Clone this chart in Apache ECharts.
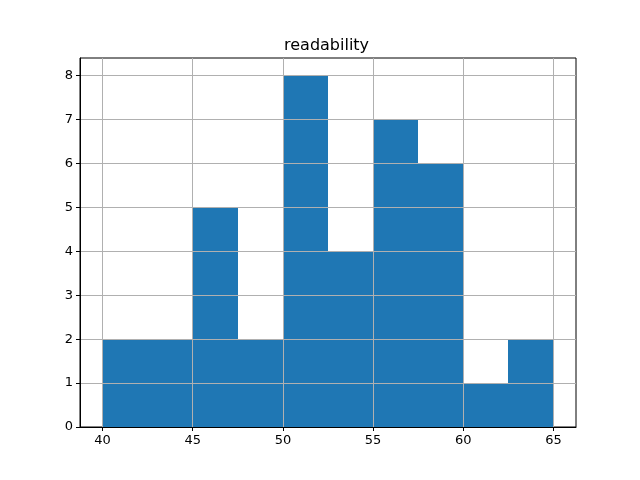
<!DOCTYPE html>
<html>
<head>
<meta charset="utf-8">
<script src="https://cdn.jsdelivr.net/npm/echarts@6/dist/echarts.min.js"></script>
<style>
html,body{margin:0;padding:0;background:#fff;}
#chart{width:640px;height:480px;}
</style>
</head>
<body>
<div id="chart"></div>
<script>
// histogram of readability, 10 bins of width 2.5
var binEdges = [40, 42.5, 45, 47.5, 50, 52.5, 55, 57.5, 60, 62.5, 65];
var counts = [2, 2, 5, 2, 8, 4, 7, 6, 1, 2];
var xTicks = [40, 45, 50, 55, 60, 65];
var yTicks = [0, 1, 2, 3, 4, 5, 6, 7, 8];

var bins = [];
for (var i = 0; i < counts.length; i++) {
	bins.push([binEdges[i], binEdges[i + 1], counts[i]]);
}

// vertical grid lines, drawn over the bars like matplotlib does
var xGrid = [];
for (var j = 0; j < xTicks.length; j++) {
	xGrid.push({xAxis: xTicks[j]});
}

var font = 'DejaVu Sans';

function renderBin(params, api){
	var p0 = api.coord([api.value(0), api.value(2)]);
	var p1 = api.coord([api.value(1), 0]);
	// whole pixels so neighbouring bins don't leave a seam
	var x0 = Math.round(p0[0]), x1 = Math.round(p1[0]);
	var y0 = Math.round(p0[1]), y1 = Math.round(p1[1]);
	return {
		type: 'rect',
		shape: {x: x0, y: y0, width: x1 - x0, height: y1 - y0},
		style: {fill: '#1f77b4'}
	};
}

var option = {
	animation: false,
	title: {
		text: 'readability',
		left: 279,
		top: 33,
		textStyle: {fontFamily: font, fontSize: 16, fontWeight: 'normal', color: '#000'}
	},
	grid: {
		left: 80, right: 64, top: 58, bottom: 53,
		show: true, borderColor: '#000', borderWidth: 1
	},
	xAxis: {
		type: 'value',
		min: 38.75,
		max: 66.25,
		z: 5,
		axisLine: {lineStyle: {color: '#000'}},
		axisTick: {show: true, length: 4, customValues: xTicks, lineStyle: {color: '#000'}},
		axisLabel: {customValues: xTicks, color: '#000', fontFamily: font, fontSize: 13, margin: 7},
		splitLine: {show: false}
	},
	yAxis: {
		type: 'value',
		min: 0,
		max: 8.4,
		z: 5,
		axisLine: {show: true, lineStyle: {color: '#000'}},
		axisTick: {show: true, length: 4, customValues: yTicks, lineStyle: {color: '#000'}},
		axisLabel: {customValues: yTicks, color: '#000', fontFamily: font, fontSize: 13, margin: 7},
		splitLine: {show: true, lineStyle: {color: '#b0b0b0', width: 1}}
	},
	series: [{
		type: 'custom',
		renderItem: renderBin,
		encode: {x: [0, 1], y: 2},
		data: bins,
		markLine: {
			silent: true,
			symbol: ['none', 'none'],
			label: {show: false},
			lineStyle: {color: '#b0b0b0', width: 1, type: 'solid'},
			emphasis: {disabled: true},
			data: xGrid
		}
	}]
};

var myChart = echarts.init(document.getElementById('chart'));
myChart.setOption(option);
</script>
</body>
</html>
